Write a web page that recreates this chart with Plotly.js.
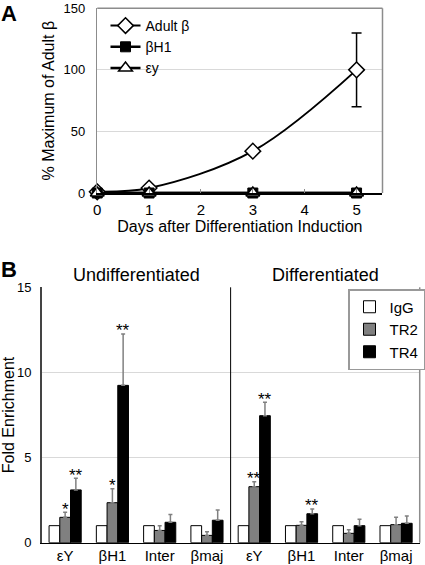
<!DOCTYPE html>
<html><head><meta charset="utf-8">
<script src="https://cdn.plot.ly/plotly-3.0.1.min.js"></script>
<style>html,body{margin:0;padding:0;background:#fff}#chart{width:425px;height:565px}</style>
</head><body><div id="chart"></div>
<script>
// ---- Panel A data ----
const daysA = [0, 1, 3, 5];
const adultBeta = [1, 4, 34, 100];
const adultBetaErr = [0, 0, 0, 30];
const betaH1 = [0, 0, 0, 0];
const epsY = [0, 0, 0, 0];
const seriesNamesA = ['Adult β', 'βH1', 'εy'];

// ---- Panel B data ----
const groupsB = ['Undifferentiated', 'Differentiated'];
const lociB = ['εY', 'βH1', 'Inter', 'βmaj', 'εY', 'βH1', 'Inter', 'βmaj'];
const igg = [1, 1, 1, 1, 1, 1, 1, 1];
const tr2 = [1.49, 2.35, 0.72, 0.43, 3.29, 1.02, 0.55, 1.06];
const tr2Err = [0.30, 0.82, 0.27, 0.22, 0.29, 0.21, 0.21, 0.43];
const tr4 = [3.10, 9.24, 1.20, 1.32, 7.46, 1.70, 1.00, 1.14];
const tr4Err = [0.68, 3.02, 0.45, 0.60, 0.79, 0.28, 0.37, 0.43];
const tr2Sig = ['*', '*', '', '', '**', '', '', ''];
const tr4Sig = ['**', '**', '', '', '**', '**', '', ''];
const seriesNamesB = ['IgG', 'TR2', 'TR4'];

const FONT = 'Liberation Sans, Arial, sans-serif';
const xB = lociB.map((_, i) => i);
const zeros = lociB.map(() => 0);
const BARGAP = 0.32;
const barW = (1 - BARGAP) / 3;

const traces = [
  {x: daysA, y: adultBeta, name: seriesNamesA[0], type: 'scatter', mode: 'lines+markers',
   xaxis: 'x', yaxis: 'y', legend: 'legend', cliponaxis: false,
   line: {color: '#000', width: 2, shape: 'spline', smoothing: 1},
   marker: {symbol: 'diamond', size: 12, color: '#fff', line: {color: '#000', width: 1.5}},
   error_y: {type: 'data', array: adultBetaErr, arrayminus: adultBetaErr, symmetric: false,
             color: '#000', thickness: 1.5, width: 5}},
  {x: daysA, y: betaH1, name: seriesNamesA[1], type: 'scatter', mode: 'lines+markers',
   xaxis: 'x', yaxis: 'y', legend: 'legend', cliponaxis: false,
   line: {color: '#000', width: 2.5},
   marker: {symbol: 'square', size: 10, color: '#000', line: {color: '#000', width: 1}}},
  {x: daysA, y: epsY, name: seriesNamesA[2], type: 'scatter', mode: 'lines+markers',
   xaxis: 'x', yaxis: 'y', legend: 'legend', cliponaxis: false,
   line: {color: '#000', width: 2.5},
   marker: {symbol: 'triangle-up', size: 12, color: '#fff', line: {color: '#000', width: 1.5}}},
  {x: xB, y: igg, name: seriesNamesB[0], type: 'bar', xaxis: 'x2', yaxis: 'y2',
   legend: 'legend2',
   marker: {color: '#fff', line: {color: '#000', width: 1}}},
  {x: xB, y: tr2, name: seriesNamesB[1], type: 'bar', xaxis: 'x2', yaxis: 'y2',
   legend: 'legend2',
   marker: {color: '#808080', line: {color: '#000', width: 1}},
   error_y: {type: 'data', array: tr2Err, arrayminus: zeros, symmetric: false,
             color: '#808080', thickness: 1.5, width: 2}},
  {x: xB, y: tr4, name: seriesNamesB[2], type: 'bar', xaxis: 'x2', yaxis: 'y2',
   legend: 'legend2',
   marker: {color: '#000', line: {color: '#000', width: 1}},
   error_y: {type: 'data', array: tr4Err, arrayminus: zeros, symmetric: false,
             color: '#808080', thickness: 1.5, width: 2}}
];

const annotations = [];
function addSig(sig, vals, errs, off) {
  sig.forEach((s, i) => {
    if (!s) return;
    annotations.push({xref: 'x2', yref: 'y2', x: i + off, y: vals[i] + errs[i], text: s,
      showarrow: false, yanchor: 'middle', yshift: 3, font: {size: 17, color: '#000', family: FONT}});
  });
}
addSig(tr2Sig, tr2, tr2Err, 0);
addSig(tr4Sig, tr4, tr4Err, barW);
groupsB.forEach((g, k) => {
  annotations.push({xref: 'x2', yref: 'paper', x: (lociB.length / groupsB.length) * (k + 0.5) - 0.5,
    y: 1 - 275 / 565, text: g, showarrow: false, yanchor: 'middle', font: {size: 18, color: '#000', family: FONT}});
});
annotations.push({xref: 'paper', yref: 'paper', x: 0, y: 1 - 14 / 565, xanchor: 'left', yanchor: 'middle',
  text: '<b>A</b>', showarrow: false, borderpad: 0, font: {size: 22, color: '#000', family: FONT}});
annotations.push({xref: 'paper', yref: 'paper', x: 0, y: 1 - 269 / 565, xanchor: 'left', yanchor: 'middle',
  text: '<b>B</b>', showarrow: false, borderpad: 0, font: {size: 22, color: '#000', family: FONT}});

const shapes = [
  {type: 'line', xref: 'x domain', yref: 'y domain', x0: 0, x1: 1, y0: 1, y1: 1, line: {color: '#8c8c8c', width: 1.5}},
  {type: 'line', xref: 'x domain', yref: 'y domain', x0: 1, x1: 1, y0: 0, y1: 1, line: {color: '#8c8c8c', width: 1.5}},
  {type: 'line', xref: 'x2', yref: 'y2 domain', x0: 3.5, x1: 3.5, y0: 0, y1: 1, line: {color: '#000', width: 1}},
  {type: 'line', xref: 'x2 domain', yref: 'y2 domain', x0: 1, x1: 1, y0: 0, y1: 1, line: {color: '#8c8c8c', width: 1.5}}
];

const layout = {
  width: 425, height: 565,
  margin: {l: 0, r: 0, t: 0, b: 0},
  paper_bgcolor: '#fff', plot_bgcolor: '#fff',
  font: {family: FONT, color: '#000'},
  showlegend: true,
  barmode: 'group', bargap: BARGAP, bargroupgap: 0,
  xaxis: {domain: [97.7 / 425, 384.3 / 425], anchor: 'y', range: [0, 5.5], dtick: 1, tick0: 0,
    showgrid: false, zeroline: false, showline: true, linecolor: '#000', linewidth: 2,
    ticks: 'inside', ticklen: 4, tickcolor: '#8c8c8c', tickfont: {size: 15}, ticklabelstandoff: 2,
    title: {text: 'Days after Differentiation Induction', font: {size: 16}, standoff: 4}},
  yaxis: {domain: [1 - 193 / 565, 1 - 8.3 / 565], anchor: 'x', range: [0, 150], tickvals: [0, 50, 100, 150],
    showgrid: true, gridcolor: '#d9d9d9', zeroline: false, showline: true, linecolor: '#8c8c8c', linewidth: 1.5,
    ticks: '', tickfont: {size: 13}, ticklabelstandoff: 8,
    title: {text: '% Maximum of Adult β', font: {size: 16}, standoff: 5}},
  xaxis2: {domain: [41.7 / 425, 421.7 / 425], anchor: 'y2', range: [-0.5, 7.5],
    tickvals: xB, ticktext: lociB, showgrid: false, zeroline: false, showline: true,
    linecolor: '#000', linewidth: 1.5, ticks: '', tickfont: {size: 15}, ticklabelstandoff: -1},
  yaxis2: {domain: [1 - 542.7 / 565, 1 - 287.3 / 565], anchor: 'x2', range: [0, 15], tickvals: [0, 5, 10, 15],
    showgrid: true, gridcolor: '#d9d9d9', zeroline: false, showline: true, linecolor: '#444', linewidth: 1.5,
    ticks: '', tickfont: {size: 13}, ticklabelstandoff: 6,
    title: {text: 'Fold Enrichment', font: {size: 16}, standoff: 3}},
  legend: {x: 106 / 425, y: 1 - 10 / 565, xanchor: 'left', yanchor: 'top', bgcolor: 'rgba(0,0,0,0)',
    borderwidth: 0, font: {size: 14}, itemwidth: 30, traceorder: 'normal'},
  legend2: {x: 350 / 425, y: 1 - 289 / 565, xanchor: 'left', yanchor: 'top', bgcolor: '#fff',
    bordercolor: '#999', borderwidth: 1.5, font: {size: 15}, itemwidth: 30, traceorder: 'normal'},
  shapes: shapes,
  annotations: annotations
};

Plotly.newPlot('chart', traces, layout, {displayModeBar: false, staticPlot: true});
</script></body></html>
